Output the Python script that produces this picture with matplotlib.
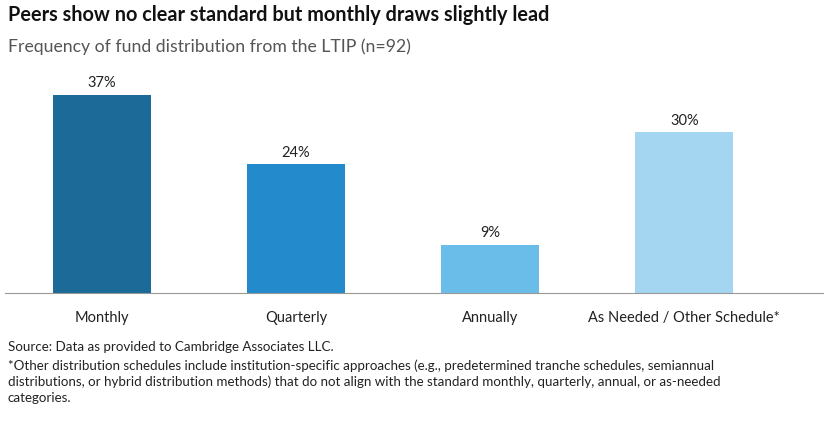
import matplotlib
matplotlib.use("Agg")
import matplotlib.pyplot as plt

categories = ["Monthly", "Quarterly", "Annually", "As Needed / Other Schedule*"]
values = [37, 24, 9, 30]
colors = ["#1b6a97", "#238bcc", "#6bbde9", "#a4d5f1"]

plt.rcParams['font.family'] = ['Lato', 'DejaVu Sans']
fig = plt.figure(figsize=(8.24, 4.31), dpi=100)
ax = fig.add_axes([5/824, (431-294)/431, 819/824, 225/431])
x = range(len(categories))
bars = ax.bar(x, values, width=0.505, color=colors)
for xi, v in zip(x, values):
    ax.text(xi, v + 1.0, f"{v}%", ha="center", va="bottom", fontsize=10.5, color="#222222")
ax.set_xlim(-0.5, 3.72)
ax.set_ylim(0, 42)
ax.set_xticks(list(x))
ax.set_xticklabels(categories, fontsize=10.5, color="#222222")
ax.tick_params(axis="x", length=0, pad=12)
ax.set_yticks([])
for s in ["top", "right", "left"]:
    ax.spines[s].set_visible(False)
ax.spines["bottom"].set_color("#999999")
ax.spines["bottom"].set_linewidth(0.8)

fig.text(8/824, 1-15/431, "Peers show no clear standard but monthly draws slightly lead",
         fontsize=14.3, fontweight="bold", va="center", color="#111111")
fig.text(8/824, 1-47/431, "Frequency of fund distribution from the LTIP (n=92)",
         fontsize=12.7, va="center", color="#555555")
fig.text(8/824, 1-347/431, "Source: Data as provided to Cambridge Associates LLC.",
         fontsize=9.6, va="center", color="#222222")
fig.text(8/824, 1-359/431,
         "*Other distribution schedules include institution-specific approaches (e.g., predetermined tranche schedules, semiannual\n"
         "distributions, or hybrid distribution methods) that do not align with the standard monthly, quarterly, annual, or as-needed\n"
         "categories.",
         fontsize=9.6, va="top", color="#222222", linespacing=1.4)
fig.savefig("out.png", dpi=100)
